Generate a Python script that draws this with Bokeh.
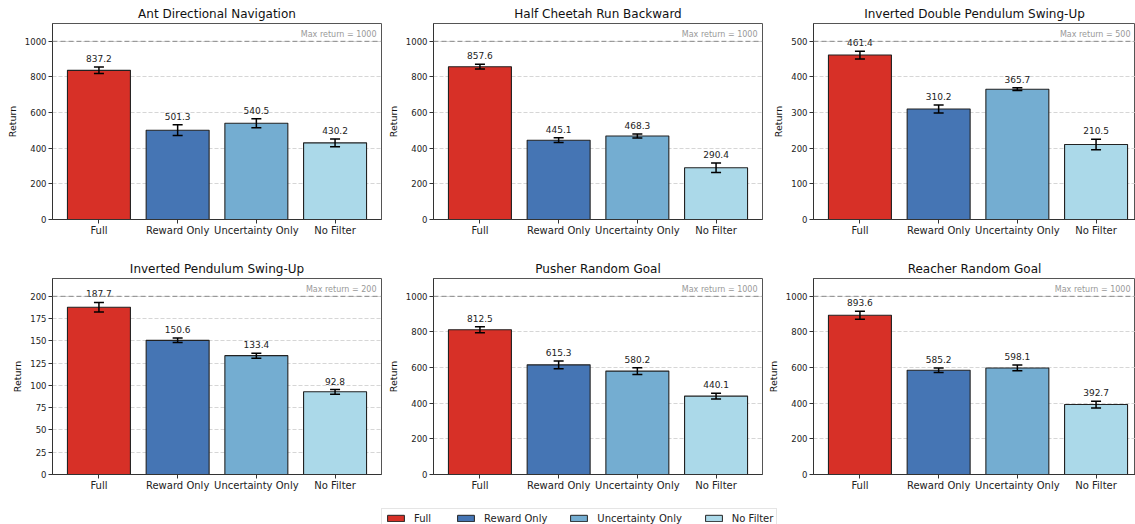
from bokeh.plotting import figure
from bokeh.layouts import column, row
from bokeh.models import (ColumnDataSource, Range1d, SingleIntervalTicker, Span,
                          Whisker, TeeHead, Legend, LegendItem)
from bokeh.embed import file_html
from bokeh.resources import INLINE
from bokeh.core.properties import value

# ---------------- data ----------------
methods = ["Full", "Reward Only", "Uncertainty Only", "No Filter"]
colors = ["#d73027", "#4575b4", "#74add1", "#abd9e9"]

titles = ["Ant Directional Navigation", "Half Cheetah Run Backward",
          "Inverted Double Pendulum Swing-Up", "Inverted Pendulum Swing-Up",
          "Pusher Random Goal", "Reacher Random Goal"]
max_returns = [1000, 1000, 500, 200, 1000, 1000]
tick_steps = [200, 200, 100, 25, 200, 200]

ant_means = [837.2, 501.3, 540.5, 430.2]
ant_errs = [18, 30, 25, 22]
cheetah_means = [857.6, 445.1, 468.3, 290.4]
cheetah_errs = [13, 13, 11, 27]
double_means = [461.4, 310.2, 365.7, 210.5]
double_errs = [11, 11, 4, 15]
pendulum_means = [187.7, 150.6, 133.4, 92.8]
pendulum_errs = [5.4, 2.5, 2.8, 2.6]
pusher_means = [812.5, 615.3, 580.2, 440.1]
pusher_errs = [17, 22, 19, 16]
reacher_means = [893.6, 585.2, 598.1, 392.7]
reacher_errs = [23, 13, 16, 19]

all_means = [ant_means, cheetah_means, double_means, pendulum_means, pusher_means, reacher_means]
all_errs = [ant_errs, cheetah_errs, double_errs, pendulum_errs, pusher_errs, reacher_errs]

FONT = "DejaVu Sans"
X_START, X_END = -0.59, 3.59
FULL_FRAME = 329
SCALE = FULL_FRAME / (X_END - X_START)


def make_panel(title, means, errs, maxr, step, left, right, bottom, fw):
    x_end = X_START + fw / SCALE
    p = figure(frame_width=fw, frame_height=196,
               min_border_left=left, min_border_right=right,
               min_border_top=23, min_border_bottom=bottom,
               x_range=Range1d(X_START, x_end), y_range=Range1d(0, maxr * 1.1),
               output_backend="svg", toolbar_location=None, tools="")
    p.title.text = title
    p.title.align = "center"
    p.title.text_font = FONT
    p.title.text_font_size = "12px"
    p.title.text_font_style = "normal"
    p.title.text_color = "#111111"
    p.title.standoff = 6
    p.background_fill_color = "white"
    p.border_fill_color = "white"
    p.outline_line_color = "#555555"
    p.outline_line_width = 1

    xs = list(range(len(methods)))
    src = ColumnDataSource(dict(
        x=xs, top=means, color=colors,
        upper=[m + e for m, e in zip(means, errs)],
        lower=[m - e for m, e in zip(means, errs)],
        label=[f"{m:.1f}" for m in means]))

    p.vbar(x="x", top="top", width=0.8, bottom=0, fill_color="color",
           line_color="#222222", line_width=1.1, source=src)

    w = Whisker(base="x", upper="upper", lower="lower", source=src,
                line_color="black", line_width=1.5, level="overlay",
                upper_head=TeeHead(size=10, line_color="black", line_width=1.5),
                lower_head=TeeHead(size=10, line_color="black", line_width=1.5))
    p.add_layout(w)

    p.text(x="x", y="upper", text="label", source=src, text_align="center",
           text_baseline="bottom", y_offset=-5, text_font_size="9px",
           text_font=value(FONT), text_color="#222222")

    p.add_layout(Span(location=maxr, dimension="width", line_color="#888888",
                      line_dash="5 3", line_width=1))
    p.text(x=[min(X_END, x_end)], y=[maxr], text=[f"Max return = {maxr}"],
           text_align="right", text_baseline="bottom", x_offset=-5, y_offset=-2,
           text_font_size="8px", text_font=value(FONT), text_color="#999999")

    # axes
    p.xaxis.ticker = xs
    p.xaxis.major_label_overrides = {i: m for i, m in enumerate(methods)}
    p.xaxis.major_label_text_font = FONT
    p.xaxis.major_label_text_font_size = "10px"
    p.xaxis.major_label_text_color = "#222222"
    p.xaxis.major_tick_out = 4
    p.xaxis.major_tick_in = 0
    p.xaxis.minor_tick_line_color = None
    p.xaxis.major_label_standoff = 1
    p.xaxis.axis_line_color = "#333333"
    p.xaxis.major_tick_line_color = "#333333"

    p.yaxis.ticker = SingleIntervalTicker(interval=step, num_minor_ticks=0)
    p.yaxis.major_label_text_font = FONT
    p.yaxis.major_label_text_font_size = "8.5px"
    p.yaxis.major_label_text_color = "#222222"
    p.yaxis.major_tick_out = 4
    p.yaxis.major_tick_in = 0
    p.yaxis.minor_tick_line_color = None
    p.yaxis.major_label_standoff = 2
    p.yaxis.axis_label = "Return"
    p.yaxis.axis_label_text_font = FONT
    p.yaxis.axis_label_text_font_size = "9.5px"
    p.yaxis.axis_label_text_font_style = "normal"
    p.yaxis.axis_label_text_color = "#111111"
    p.yaxis.axis_label_standoff = 4
    p.yaxis.axis_line_color = "#333333"
    p.yaxis.major_tick_line_color = "#333333"

    p.xgrid.visible = False
    p.ygrid.ticker = SingleIntervalTicker(interval=step, num_minor_ticks=0)
    p.ygrid.grid_line_color = "#cccccc"
    p.ygrid.grid_line_dash = "4 2"
    p.ygrid.grid_line_alpha = 0.8
    return p


# (left border, right border, bottom border, frame width)
specs = [
    (52, 3, 36, 329), (49, 2, 36, 329), (49, 0, 36, 322),
    (52, 3, 31, 329), (49, 2, 31, 329), (49, 0, 31, 322),
]
panels = []
for i in range(6):
    left, right, bottom, fw = specs[i]
    panels.append(make_panel(titles[i], all_means[i], all_errs[i], max_returns[i],
                             tick_steps[i], left, right, bottom, fw))

# ---------------- legend strip ----------------
lg = figure(frame_width=1135, frame_height=19, min_border=0,
            min_border_left=0, min_border_right=0, min_border_top=0, min_border_bottom=0,
            x_range=Range1d(0, 1), y_range=Range1d(0, 1),
            x_axis_location=None, y_axis_location=None,
            output_backend="svg", toolbar_location=None, tools="", title_location=None)
lg.grid.visible = False
lg.outline_line_color = None
lg.background_fill_color = "white"
lg.border_fill_color = "white"
lsrc = ColumnDataSource(dict(x=[5, 6, 7, 8], top=[1, 1, 1, 1], color=colors))
lr = lg.vbar(x="x", top="top", width=0.8, bottom=0, fill_color="color",
             line_color="#222222", line_width=1, source=lsrc)
items = [LegendItem(label=m, renderers=[lr], index=i) for i, m in enumerate(methods)]
legend = Legend(items=items, orientation="horizontal", location=(381, -4),
                label_text_font=FONT, label_text_font_size="10px",
                label_text_color="#222222",
                glyph_width=21, glyph_height=8, label_height=12, label_standoff=8,
                spacing=21, padding=3, margin=0,
                border_line_color="#cccccc", background_fill_color="white",
                background_fill_alpha=1.0)
lg.add_layout(legend)

layout = column(row(*panels[:3], spacing=0), row(*panels[3:], spacing=0), lg, spacing=0)
open("out.html", "w").write(file_html(layout, INLINE))
